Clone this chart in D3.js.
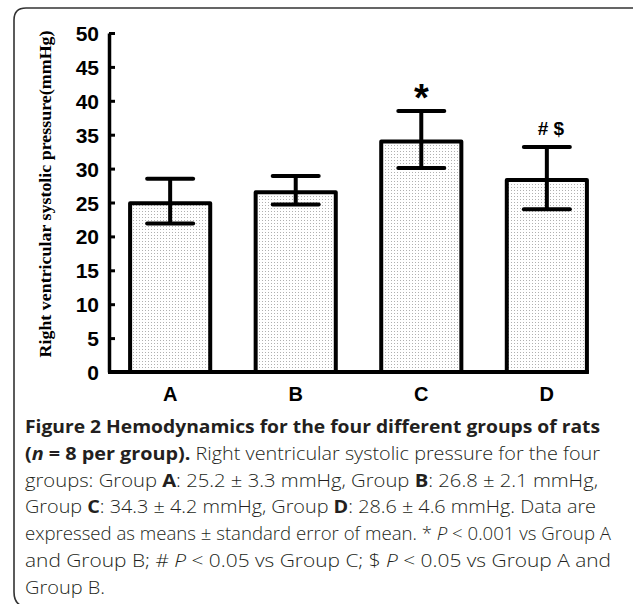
<!DOCTYPE html>
<html><head><meta charset="utf-8">
<script src="https://cdn.jsdelivr.net/npm/d3@7"></script>
<style>html,body{margin:0;padding:0;background:#fff}svg{display:block}</style>
</head><body>
<svg id="chart" width="633" height="604"></svg>
<script>
const groups = ["A", "B", "C", "D"];
const means = [25.2, 26.8, 34.3, 28.6];
const errors = [3.3, 2.1, 4.2, 4.6];
const marks = ["", "", "*", "# $"];
const yTicks = [0, 5, 10, 15, 20, 25, 30, 35, 40, 45, 50];
const yTitle = "Right ventricular systolic pressure(mmHg)";
const captionLines = [
  [["Figure 2 Hemodynamics for the four different groups of rats", "b"]],
  [["(", "b"], ["n", "bi"], [" = 8 per group).", "b"], [" Right ventricular systolic pressure for the four", ""]],
  [["groups: Group ", ""], ["A", "b"], [": 25.2 \u00b1 3.3 mmHg, Group ", ""], ["B", "b"], [": 26.8 \u00b1 2.1 mmHg,", ""]],
  [["Group ", ""], ["C", "b"], [": 34.3 \u00b1 4.2 mmHg, Group ", ""], ["D", "b"], [": 28.6 \u00b1 4.6 mmHg. Data are", ""]],
  [["expressed as means \u00b1 standard error of mean. * ", ""], ["P", "i"], [" < 0.001 vs Group A", ""]],
  [["and Group B; # ", ""], ["P", "i"], [" < 0.05 vs Group C; $ ", ""], ["P", "i"], [" < 0.05 vs Group A and", ""]],
  [["Group B.", ""]]
];
const captionWidths = [575, 575, 573, 571, 586, 586, 80];

const svg = d3.select("#chart");

// frame
svg.append("path")
  .attr("d", "M633,8 L26,8 Q14,8 14,20 L14,592 Q14,603 22,606")
  .attr("fill", "none").attr("stroke", "#333").attr("stroke-width", 1.6);

// pattern
const defs = svg.append("defs");
const pat = defs.append("pattern").attr("id", "dots").attr("patternUnits", "userSpaceOnUse")
  .attr("width", 3).attr("height", 3);
pat.append("rect").attr("width", 3).attr("height", 3).attr("fill", "#fff");
pat.append("rect").attr("x", 1).attr("y", 1).attr("width", 1).attr("height", 1).attr("fill", "#b0b0b0");

const y = d3.scaleLinear().domain([0, 50]).range([372, 33]);
const x = d3.scaleBand().domain(groups).range([108, 609]).paddingInner(0.33).paddingOuter(0.16);
const bw = x.bandwidth();

const g = svg.append("g");

// bars
g.selectAll("rect.bar").data(groups).join("rect").attr("class", "bar")
  .attr("x", d => x(d) + 2)
  .attr("y", (d, i) => y(means[i]) + 2)
  .attr("width", bw - 4)
  .attr("height", (d, i) => y(0) - y(means[i]) - 2)
  .attr("fill", "url(#dots)").attr("stroke", "#000").attr("stroke-width", 4)
  .attr("stroke-linejoin", "round");

// error bars
const capW = 46;
groups.forEach((d, i) => {
  const cx = x(d) + bw / 2;
  const hi = y(means[i] + errors[i]), lo = y(means[i] - errors[i]);
  g.append("line").attr("x1", cx).attr("x2", cx).attr("y1", hi).attr("y2", lo)
    .attr("stroke", "#000").attr("stroke-width", 4);
  [hi, lo].forEach(yy => g.append("line").attr("x1", cx - capW / 2).attr("x2", cx + capW / 2)
    .attr("y1", yy).attr("y2", yy).attr("stroke", "#000").attr("stroke-width", 4).attr("stroke-linecap", "round"));
  if (marks[i]) {
    const big = marks[i] === "*";
    g.append("text").attr("x", cx + (big ? 0 : 4)).attr("y", hi - (big ? 0 : 12))
      .attr("text-anchor", "middle")
      .attr("font-family", "Liberation Sans, Arial, sans-serif").attr("font-weight", "bold")
      .attr("font-size", big ? 38 : 19).text(marks[i]);
  }
});

// x baseline
g.append("line").attr("x1", 108).attr("x2", x(groups[groups.length - 1]) + bw)
  .attr("y1", y(0)).attr("y2", y(0)).attr("stroke", "#000").attr("stroke-width", 4);

// y axis
const yAxis = d3.axisLeft(y).tickValues(yTicks).tickSizeInner(-6).tickSizeOuter(0).tickPadding(10);
const ya = g.append("g").attr("transform", "translate(109,0)").call(yAxis);
ya.select(".domain").attr("stroke", "#000").attr("stroke-width", 3.5);
ya.selectAll(".tick line").attr("stroke", "#000").attr("stroke-width", 3);
ya.selectAll(".tick text").attr("font-family", "Liberation Sans, Arial, sans-serif")
  .attr("font-weight", "bold").attr("font-size", 21).attr("fill", "#000").attr("dy", "0.36em");

// x labels
g.selectAll("text.xl").data(groups).join("text").attr("class", "xl")
  .attr("x", d => x(d) + bw / 2).attr("y", 401).attr("text-anchor", "middle")
  .attr("font-family", "Liberation Sans, Arial, sans-serif").attr("font-weight", "bold")
  .attr("font-size", 20).text(d => d);

// y title
svg.append("text").attr("transform", "translate(51,194) rotate(-90)")
  .attr("text-anchor", "middle").attr("font-family", "Liberation Serif, Times New Roman, serif")
  .attr("font-weight", "bold").attr("font-size", 16).attr("textLength", 327)
  .attr("lengthAdjust", "spacingAndGlyphs").text(yTitle);

// caption
const base0 = 433, lh = 26.8;
captionLines.forEach((segs, li) => {
  const t = svg.append("text").attr("x", 25).attr("y", base0 + li * lh)
    .attr("font-family", "Open Sans, sans-serif").attr("font-size", 18.5).attr("fill", "#231f20");
  segs.forEach(([s, st]) => {
    t.append("tspan").attr("font-weight", st.includes("b") ? "bold" : (li === 0 ? "bold" : 300))
      .attr("font-style", st.includes("i") ? "italic" : "normal").text(s);
  });
  if (captionWidths[li]) {
    t.attr("textLength", captionWidths[li]).attr("lengthAdjust", "spacingAndGlyphs");
  }
});
</script>
</body></html>
